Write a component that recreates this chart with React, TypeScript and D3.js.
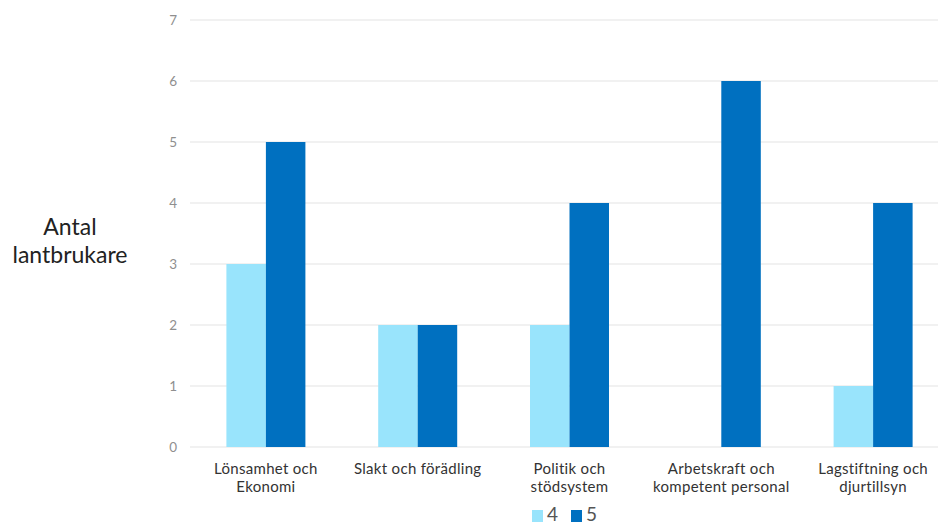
import React from "react";
import * as d3 from "d3";

const categories: string[][] = [
  ["Lönsamhet och", "Ekonomi"],
  ["Slakt och förädling"],
  ["Politik och", "stödsystem"],
  ["Arbetskraft och", "kompetent personal"],
  ["Lagstiftning och", "djurtillsyn"],
];
const seriesNames = ["4", "5"];
const values4 = [3, 2, 2, 0, 1];
const values5 = [5, 2, 4, 6, 4];
const yTicks = [0, 1, 2, 3, 4, 5, 6, 7];
const colors = ["#99E4FC", "#0070C0"];

const W = 938;
const H = 525;
const FONT = "Lato, 'Open Sans', sans-serif";

export default function App() {
  const idx = categories.map((_, i) => String(i));
  const x = d3.scaleBand<string>().domain(idx).range([190, 949]);
  const y = d3.scaleLinear().domain([0, 7]).range([447, 20]);
  const bw = 39.5;
  const series = [values4, values5];

  return (
    <svg width={W} height={H} style={{ position: "absolute", left: 0, top: 0, background: "#fff" }} fontFamily={FONT}>
      {yTicks.map((t) => (
        <g key={t}>
          <line x1={190} x2={949} y1={y(t)} y2={y(t)} stroke="#e3e3e3" strokeWidth={1} />
          <text x={177} y={y(t)} dy="0.35em" textAnchor="end" fontSize={13.5} fill="#8f8f8f">
            {t}
          </text>
        </g>
      ))}
      {series.map((vals, s) =>
        vals.map((v, i) => {
          const cx = (x(String(i)) as number) + x.bandwidth() / 2;
          const bx = cx + (s === 0 ? -bw : 0);
          return v > 0 ? (
            <rect key={`${s}-${i}`} x={bx} y={y(v)} width={bw} height={y(0) - y(v)} fill={colors[s]} />
          ) : null;
        })
      )}
      {categories.map((lines, i) => {
        const cx = (x(String(i)) as number) + x.bandwidth() / 2;
        return (
          <text key={i} textAnchor="middle" fontSize={15} letterSpacing={0.3} fill="#333">
            {lines.map((l, j) => (
              <tspan key={j} x={cx} y={474 + j * 17.5}>
                {l}
              </tspan>
            ))}
          </text>
        );
      })}
      <text textAnchor="middle" fontSize={23} fill="#222">
        <tspan x={70} y={235}>Antal</tspan>
        <tspan x={70} y={263}>lantbrukare</tspan>
      </text>
      {seriesNames.map((n, s) => (
        <g key={n} transform={`translate(${532 + s * 39},0)`}>
          <rect x={0} y={510} width={11} height={12} fill={colors[s]} />
          <text x={15} y={521} fontSize={19} fill="#555">
            {n}
          </text>
        </g>
      ))}
    </svg>
  );
}
